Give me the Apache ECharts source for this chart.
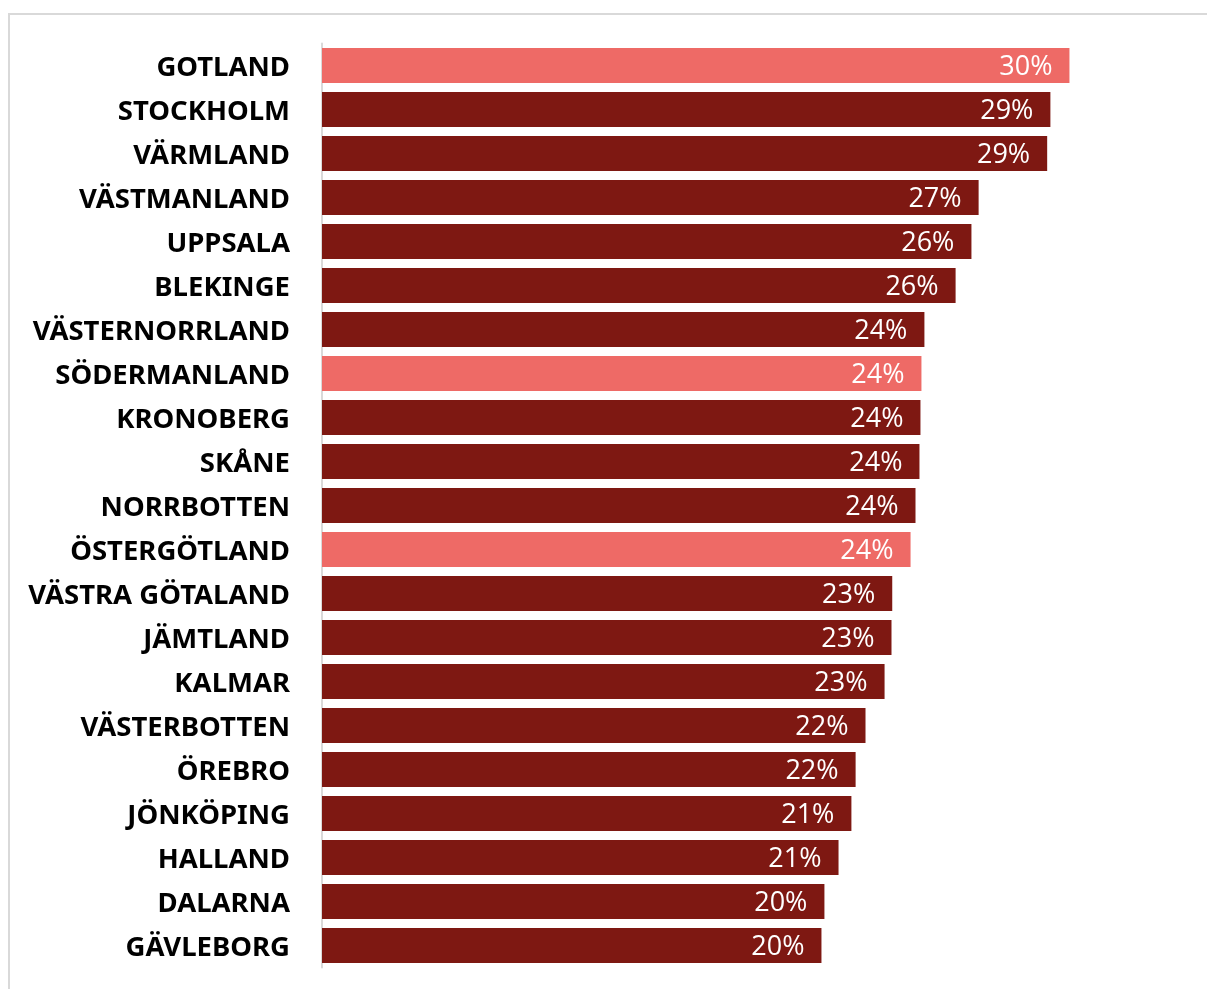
<!DOCTYPE html>
<html>
<head>
<meta charset="utf-8">
<script src="https://cdn.jsdelivr.net/npm/echarts@6/dist/echarts.min.js"></script>
<style>
html,body{margin:0;padding:0;background:#fff;}
#chart{width:1207px;height:989px;}
</style>
</head>
<body>
<div id="chart"></div>
<script>
const categories = ['GOTLAND','STOCKHOLM','VÄRMLAND','VÄSTMANLAND','UPPSALA','BLEKINGE','VÄSTERNORRLAND','SÖDERMANLAND','KRONOBERG','SKÅNE','NORRBOTTEN','ÖSTERGÖTLAND','VÄSTRA GÖTALAND','JÄMTLAND','KALMAR','VÄSTERBOTTEN','ÖREBRO','JÖNKÖPING','HALLAND','DALARNA','GÄVLEBORG'];
const values = [30.2,29.43,29.3,26.53,26.24,25.6,24.34,24.22,24.18,24.14,23.98,23.78,23.04,23.01,22.73,21.96,21.56,21.39,20.87,20.3,20.18];
const highlighted = ['GOTLAND','SÖDERMANLAND','ÖSTERGÖTLAND'];

const DARK = '#7e1812';
const LIGHT = '#ee6a66';

const chart = echarts.init(document.getElementById('chart'), null, {renderer:'canvas'});
chart.setOption({
  animation:false,
  backgroundColor:'#ffffff',
  graphic:[{
    type:'rect', silent:true, z:-10,
    shape:{x:9,y:14,width:1300,height:1100},
    style:{fill:'none',stroke:'#d9d9d9',lineWidth:2}
  }],
  grid:{left:322,right:18.75,top:43.5,bottom:21.5,containLabel:false},
  xAxis:{type:'value',min:0,max:35,show:false},
  yAxis:{
    type:'category',
    data:categories,
    inverse:true,
    axisTick:{show:false},
    axisLine:{show:true,lineStyle:{color:'#d9d9d9',width:2}},
    axisLabel:{margin:32,fontFamily:'Noto Sans',fontWeight:'bold',fontSize:27.5,color:'#000',verticalAlign:'top',lineHeight:5}
  },
  series:[{
    type:'bar',
    barCategoryGap:'20.5%',
    data:values.map((v,i)=>({value:v,itemStyle:{color:highlighted.includes(categories[i])?LIGHT:DARK}})),
    label:{
      show:true,position:'insideRight',distance:17,offset:[0,2],
      color:'#fff',fontFamily:'Open Sans',fontSize:27,
      formatter:p=>Math.round(p.value)+'%'
    }
  }]
});
</script>
</body>
</html>
